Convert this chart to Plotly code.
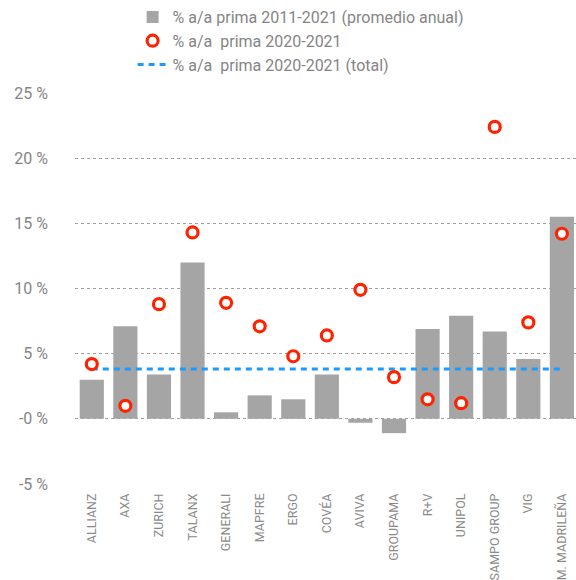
import plotly.graph_objects as go

categories = ["ALLIANZ", "AXA", "ZURICH", "TALANX", "GENERALI", "MAPFRE", "ERGO", "COVÉA",
              "AVIVA", "GROUPAMA", "R+V", "UNIPOL", "SAMPO GROUP", "VIG", "M. MADRILEÑA"]
avg_2011_2021 = [3.0, 7.1, 3.4, 12.0, 0.5, 1.8, 1.5, 3.4, -0.3, -1.1, 6.9, 7.9, 6.7, 4.6, 15.5]
yoy_2020_2021 = [4.2, 1.0, 8.8, 14.3, 8.9, 7.1, 4.8, 6.4, 9.9, 3.2, 1.5, 1.2, 22.4, 7.4, 14.2]
total_2020_2021 = 3.82
tick_vals = [-5, 0, 5, 10, 15, 20, 25]
tick_text = ["-5 %", "-0 %", "5 %", "10 %", "15 %", "20 %", "25 %"]

name_bar = "% a/a prima 2011-2021 (promedio anual)"
name_pts = "% a/a\u00a0 prima 2020-2021"
name_tot = "% a/a\u00a0 prima 2020-2021 (total)"

font_family = "Roboto, 'DejaVu Sans', sans-serif"
gray_txt = "#858585"

fig = go.Figure()
fig.add_trace(go.Bar(
    x=categories, y=avg_2011_2021, name=name_bar,
    marker=dict(color="#a5a5a5", line=dict(width=0)), width=0.72,
))
fig.add_trace(go.Scatter(
    x=[categories[0], categories[-1]], y=[total_2020_2021, total_2020_2021],
    mode="lines", name=name_tot,
    line=dict(color="#1a9bff", width=3, dash="6px,5px"),
))
fig.add_trace(go.Scatter(
    x=categories, y=yoy_2020_2021, mode="markers", name=name_pts,
    marker=dict(symbol="circle", size=11, color="white",
                line=dict(color="#ff2200", width=3.2)),
))

fig.update_layout(
    width=576, height=580,
    margin=dict(l=75, r=0, t=93, b=96),
    paper_bgcolor="white", plot_bgcolor="white",
    font=dict(family=font_family, color=gray_txt, size=16),
    showlegend=True,
    legend=dict(
        x=0.115, y=1.0, xref="paper", yref="container", xanchor="left", yanchor="top",
        traceorder="normal", font=dict(size=16, color=gray_txt),
        bgcolor="rgba(0,0,0,0)", itemwidth=30, tracegroupgap=0,
    ),
    xaxis=dict(
        type="category", categoryorder="array", categoryarray=categories,
        range=[-0.5, 14.42], tickangle=-90,
        tickfont=dict(size=12.5, color="#8a8a8a"),
        showgrid=False, zeroline=False, showline=False, ticks="",
        ticklabelstandoff=6,
    ),
    yaxis=dict(
        range=[-5, 25], tickvals=tick_vals, ticktext=tick_text,
        tickfont=dict(size=16, color=gray_txt),
        showgrid=True, gridcolor="#a0a0a0", gridwidth=1, griddash="dot",
        zeroline=False, showline=False, ticks="", ticklabelstandoff=26,
    ),
)

# legend order: bar, points, total
fig.data[0].legendrank = 1
fig.data[2].legendrank = 2
fig.data[1].legendrank = 3

fig.write_html(
    "out.html",
    config={"displayModeBar": False},
    post_script="document.body.style.margin='0';document.body.style.overflow='hidden';",
)
